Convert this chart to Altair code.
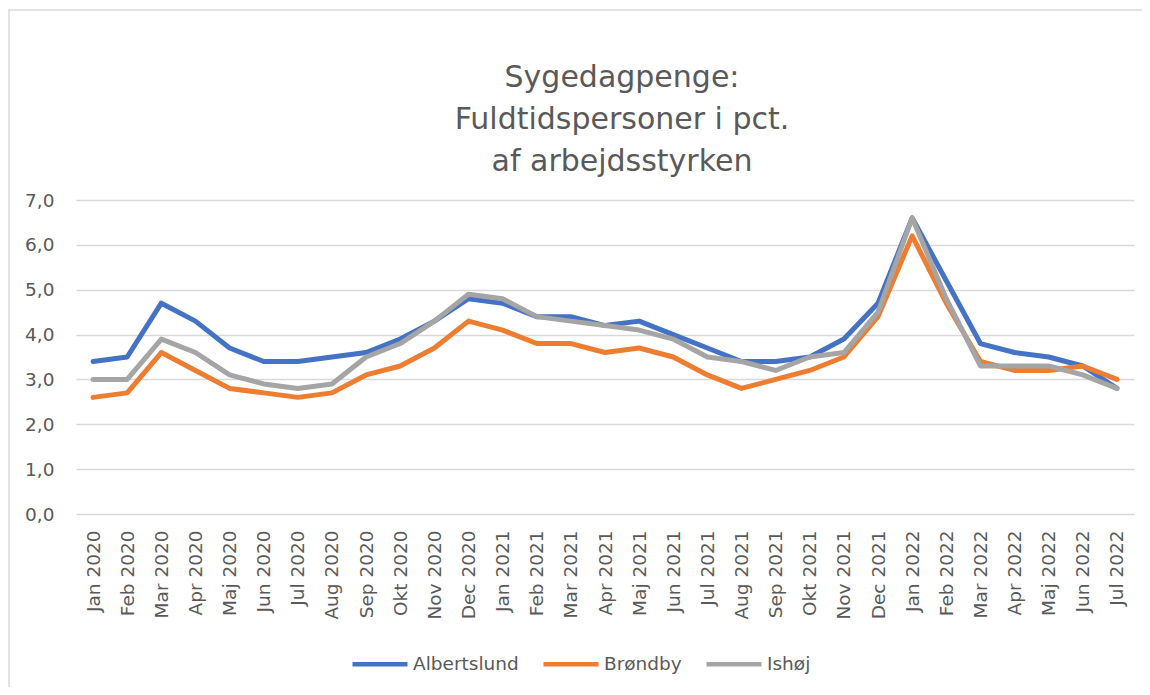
import altair as alt
import pandas as pd

months = [
    "Jan 2020", "Feb 2020", "Mar 2020", "Apr 2020", "Maj 2020", "Jun 2020",
    "Jul 2020", "Aug 2020", "Sep 2020", "Okt 2020", "Nov 2020", "Dec 2020",
    "Jan 2021", "Feb 2021", "Mar 2021", "Apr 2021", "Maj 2021", "Jun 2021",
    "Jul 2021", "Aug 2021", "Sep 2021", "Okt 2021", "Nov 2021", "Dec 2021",
    "Jan 2022", "Feb 2022", "Mar 2022", "Apr 2022", "Maj 2022", "Jun 2022",
    "Jul 2022",
]
albertslund = [3.4, 3.5, 4.7, 4.3, 3.7, 3.4, 3.4, 3.5, 3.6, 3.9, 4.3, 4.8,
               4.7, 4.4, 4.4, 4.2, 4.3, 4.0, 3.7, 3.4, 3.4, 3.5, 3.9, 4.7,
               6.6, 5.2, 3.8, 3.6, 3.5, 3.3, 2.8]
brondby = [2.6, 2.7, 3.6, 3.2, 2.8, 2.7, 2.6, 2.7, 3.1, 3.3, 3.7, 4.3,
           4.1, 3.8, 3.8, 3.6, 3.7, 3.5, 3.1, 2.8, 3.0, 3.2, 3.5, 4.4,
           6.2, 4.7, 3.4, 3.2, 3.2, 3.3, 3.0]
ishoj = [3.0, 3.0, 3.9, 3.6, 3.1, 2.9, 2.8, 2.9, 3.5, 3.8, 4.3, 4.9,
         4.8, 4.4, 4.3, 4.2, 4.1, 3.9, 3.5, 3.4, 3.2, 3.5, 3.6, 4.5,
         6.6, 4.8, 3.3, 3.3, 3.3, 3.1, 2.8]
series_names = ["Albertslund", "Brøndby", "Ishøj"]
series_colors = ["#4472C4", "#ED7D31", "#A5A5A5"]
y_ticks = [0, 1, 2, 3, 4, 5, 6, 7]
title_lines = ["Sygedagpenge:", "Fuldtidspersoner i pct.", "af arbejdsstyrken"]

rows = []
for name, vals in zip(series_names, [albertslund, brondby, ishoj]):
    for m, v in zip(months, vals):
        rows.append({"Måned": m, "Kommune": name, "Værdi": v})
df = pd.DataFrame(rows)

FONT = "DejaVu Sans"
TXT = "#595959"
GRID = "#D9D9D9"

lines = alt.Chart(df).mark_line(
    strokeWidth=5, strokeCap="round", strokeJoin="round"
).encode(
    x=alt.X("Måned:N", sort=months,
            scale=alt.Scale(type="point", padding=0.5),
            axis=alt.Axis(title=None, labelAngle=270, labelFontSize=18.5,
                          labelFont=FONT, labelColor=TXT, domain=False,
                          ticks=False, grid=False, labelPadding=16)),
    y=alt.Y("Værdi:Q",
            scale=alt.Scale(domain=[0, 7], nice=False, zero=True),
            axis=alt.Axis(title=None, values=y_ticks, labelFontSize=18.5,
                          labelFont=FONT, labelColor=TXT, domain=False,
                          ticks=False, grid=True, gridColor=GRID,
                          gridWidth=1.5, labelPadding=22,
                          labelExpr="replace(format(datum.value, '.1f'), '.', ',')")),
    color=alt.Color("Kommune:N", sort=series_names,
                    scale=alt.Scale(domain=series_names, range=series_colors),
                    legend=alt.Legend(title=None, orient="none", direction="horizontal",
                                      legendX=274, legendY=434,
                                      symbolType="stroke", symbolSize=3025,
                                      symbolStrokeWidth=4.5, labelFontSize=18.5,
                                      labelFont=FONT, labelColor=TXT,
                                      labelOffset=3, columnPadding=15)),
)

# light outer chart frame (decoration, as in the spreadsheet chart area)
frame_data = alt.Data(values=[{"k": 1}])
frame = alt.Chart(frame_data).mark_rect(
    fill="white", fillOpacity=0, stroke=GRID, strokeWidth=1.5
).encode(
    x=alt.value(-67), x2=alt.value(1300), y=alt.value(-190), y2=alt.value(800)
)

chart = alt.layer(frame, lines).properties(
    width=1058,
    height=314,
    autosize=alt.AutoSizeParams(type="none"),
    padding={"left": 68, "top": 192, "right": 8, "bottom": 173},
    title=alt.Title(title_lines, fontSize=30, font=FONT, fontWeight="normal",
                    color=TXT, lineHeight=42, anchor="middle", frame="group",
                    dx=17, offset=-168),
).configure(
    font=FONT,
).configure_view(stroke=None)

chart.save("out.html", embed_options={"renderer": "svg", "actions": False})
